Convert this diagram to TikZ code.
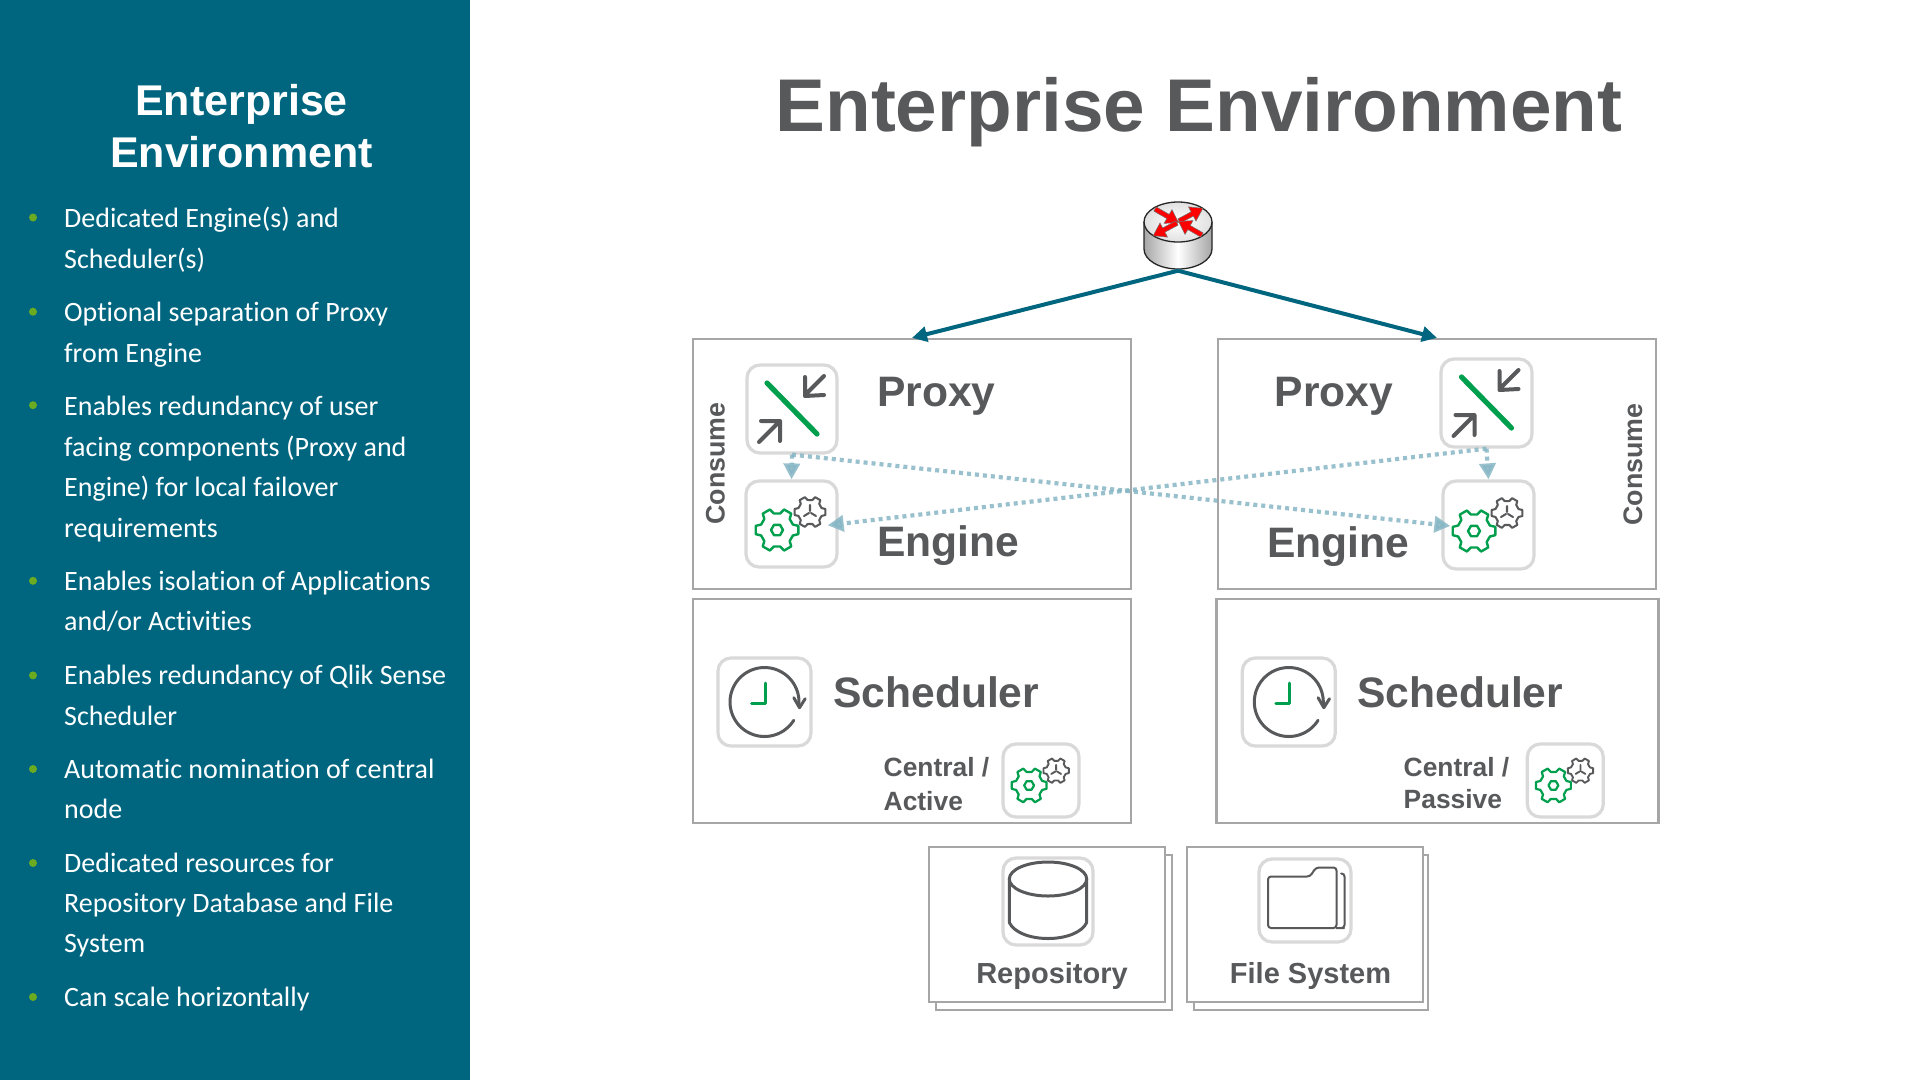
\documentclass[tikz,border=0pt]{standalone}
\usepackage{fontspec}
\setmainfont{Liberation Sans}
\newfontfamily\bodyfont[Ligatures=NoCommon]{Carlito}
\usetikzlibrary{arrows.meta,calc}
\definecolor{panelteal}{HTML}{00667F}
\definecolor{inkgray}{HTML}{58595B}
\definecolor{boxgray}{HTML}{A6A6A6}
\definecolor{iconedge}{HTML}{D9D9D9}
\definecolor{qgreen}{HTML}{009F4D}
\definecolor{dotblue}{HTML}{86B6C5}
\definecolor{bulletgreen}{HTML}{6AAB22}
\newcommand{\fsz}[1]{\fontsize{#1pt}{#1pt}\selectfont}
\tikzset{
  x=1pt,y=-1pt,
  framebox/.style={draw=boxgray,line width=2.2,fill=white,rectangle,inner sep=0,minimum width=#1},
  iconbox/.style={draw=iconedge,line width=3.2,rounded corners=13,fill=white,rectangle,inner sep=0},
  biglabel/.style={font=\bfseries\fsz{42.6},text=inkgray,anchor=base west,inner sep=0},
  smalllabel/.style={font=\bfseries\fsz{29},text=inkgray,inner sep=0},
  tinylabel/.style={font=\bfseries\fsz{26.4},text=inkgray,inner sep=0,anchor=base west},
  consumelabel/.style={font=\bfseries\fsz{26.8},text=inkgray,inner sep=0,rotate=90,anchor=base},
  bodyline/.style={font=\bodyfont\fsz{28},text=white,anchor=base west,inner sep=0},
  bulletdot/.style={fill=bulletgreen,circle,inner sep=0,minimum size=8},
  feed/.style={draw=panelteal,line width=4,-{Triangle[length=15,width=15]}},
  dotlink/.style={draw=dotblue,line width=4.2,opacity=.85,dash pattern=on 4 off 4,-{Triangle[length=16,width=16]}},
  inkline/.style={draw=inkgray,line cap=round,line join=round},
  greenline/.style={draw=qgreen,line cap=round,line join=round},
  enginegears/.pic={
    \begin{scope}[shift={(-14.5,6)}]
      \draw[greenline,line width=#1] ({-19}:16.8) \foreach \a in {0,60,...,300} { -- ({\a-19}:16.8) -- ({\a-11}:21.7) -- ({\a+11}:21.7) -- ({\a+19}:16.8) } -- cycle;
      \draw[greenline,line width=#1] (0:6) -- (60:6) -- (120:6) -- (180:6) -- (240:6) -- (300:6) -- cycle;
    \end{scope}
    \begin{scope}[shift={(18.5,-12)}]
      \draw[inkline,line width=#1*.85] ({-19}:12.2) \foreach \a in {0,60,...,300} { -- ({\a-19}:12.2) -- ({\a-11}:15.7) -- ({\a+11}:15.7) -- ({\a+19}:12.2) } -- cycle;
      \draw[inkline,line width=#1*.85] (0,-1) -- (0,-7) (1,1) -- (6,4) (-1,1) -- (-6,4);
    \end{scope}
  },
  proxyglyph/.pic={
    \draw[greenline,line width=5.2] (-25,-26) -- (25,25);
    \draw[inkline,line width=4] (32,-33) -- (13,-14) (13,-32) -- (13,-13) -- (32,-14);
    \draw[inkline,line width=4] (-33,33) -- (-12,12) (-31,12) -- (-12,12) -- (-12,32);
  },
  clockglyph/.pic={
    \draw[inkline,line width=3] plot[domain=32:366,samples=70,smooth] ({34.5*cos(\x)},{34.5*sin(\x)});
    \draw[inkline,line width=3] (29.3,-4.3) -- (35,5.7) -- (40.7,-3.3);
    \draw[greenline,line width=3] (0.7,-19) -- (0.7,1) -- (-13,1);
  },
  redpointer/.pic={
    \draw[fill=red,draw=black!55,line width=.5,line join=miter] (0,-2.4) -- (15,-2.4) -- (15,-8) -- (27,0) -- (15,8) -- (15,2.4) -- (0,2.4) -- cycle;
  }
}
\begin{document}
\begin{tikzpicture}
\useasboundingbox (0,0) rectangle (1920,1080);
\fill[white] (0,0) rectangle (1920,1080);
\fill[panelteal] (0,0) rectangle (470,1080);

% side panel
\node[font=\bfseries\fsz{43},text=white,anchor=base,inner sep=0] (ptitleA) at (241.5,115) {Enterprise};
\node[font=\bfseries\fsz{43},text=white,anchor=base,inner sep=0] (ptitleB) at (241.5,167) {Environment};
\node[bodyline] (l1) at (64,227.7) {Dedicated Engine(s) and};
\node[bodyline] (l2) at (64,268.2) {Scheduler(s)};
\node[bodyline] (l3) at (64,321.2) {Optional separation of Proxy};
\node[bodyline] (l4) at (64,362.8) {from Engine};
\node[bodyline] (l5) at (64,415) {Enables redundancy of user};
\node[bodyline] (l6) at (64,456.4) {facing components (Proxy and};
\node[bodyline] (l7) at (64,496.9) {Engine) for local failover};
\node[bodyline] (l8) at (64,537) {requirements};
\node[bodyline] (l9) at (64,590.3) {Enables isolation of Applications};
\node[bodyline] (l10) at (64,630.8) {and/or Activities};
\node[bodyline] (l11) at (64,684.9) {Enables redundancy of Qlik Sense};
\node[bodyline] (l12) at (64,725) {Scheduler};
\node[bodyline] (l13) at (64,778.4) {Automatic nomination of central};
\node[bodyline] (l14) at (64,818.5) {node};
\node[bodyline] (l15) at (64,872) {Dedicated resources for};
\node[bodyline] (l16) at (64,912.6) {Repository Database and File};
\node[bodyline] (l17) at (64,952.5) {System};
\node[bodyline] (l18) at (64,1006) {Can scale horizontally};
\foreach \i/\yy in {1/217.5,2/311.7,3/405.2,4/580.8,5/675.4,6/769,7/863,8/997}
  \node[bulletdot] (bullet\i) at (33,\yy) {};

% main title
\node[font=\bfseries\fsz{74.7},text=inkgray,anchor=base,inner sep=0] (maintitle) at (1199,131) {Enterprise Environment};

% frames
\node[framebox=438,minimum height=250] (consumeA) at (912,464) {};
\node[framebox=438,minimum height=250] (consumeB) at (1437,464) {};
\node[framebox=438,minimum height=224] (schedA) at (912,711) {};
\node[framebox=442,minimum height=224] (schedB) at (1437.5,711) {};
\node[framebox=236,minimum height=155] (repoback) at (1054,932.5) {};
\node[framebox=236,minimum height=155] (repofront) at (1047,924.5) {};
\node[framebox=234,minimum height=155] (fsback) at (1311,932.5) {};
\node[framebox=236,minimum height=155] (fsfront) at (1305,924.5) {};

% icon boxes
\node[iconbox,minimum width=90,minimum height=88] (proxyA) at (792,409) {};
\node[iconbox,minimum width=91,minimum height=86] (engineA) at (791.5,524) {};
\node[iconbox,minimum width=91,minimum height=88] (proxyB) at (1486.5,403) {};
\node[iconbox,minimum width=91,minimum height=88] (engineB) at (1488.5,525) {};
\node[iconbox,minimum width=93,minimum height=88] (clockA) at (764.5,702) {};
\node[iconbox,minimum width=93,minimum height=88] (clockB) at (1288.8,702) {};
\node[iconbox,minimum width=76,minimum height=73] (miniA) at (1041,780.5) {};
\node[iconbox,minimum width=76,minimum height=73] (miniB) at (1565.3,780.5) {};
\node[iconbox,minimum width=90,minimum height=87] (repoicon) at (1048,901.5) {};
\node[iconbox,minimum width=92,minimum height=83] (fsicon) at (1305,900.5) {};

% glyphs
\pic at (proxyA.center) {proxyglyph};
\pic at (proxyB.center) {proxyglyph};
\pic at (engineA.center) {enginegears=2.4};
\pic at (engineB.center) {enginegears=2.4};
\pic at (clockA.center) {clockglyph};
\pic at (clockB.center) {clockglyph};
\pic[scale=.82] at (miniA.center) {enginegears=2.2};
\pic[scale=.82] at (miniB.center) {enginegears=2.2};

% repository glyph
\begin{scope}[shift={(repoicon.center)}]
  \draw[inkline,line width=3] (0,-22.5) circle[x radius=38.7pt,y radius=17pt];
  \draw[inkline,line width=3] (-38.7,-22.5) -- (-38.7,21) .. controls (-34,31) and (-18,37) .. (0,37) .. controls (18,37) and (34,31) .. (38.7,21) -- (38.7,-22.5);
\end{scope}
% folder glyph
\begin{scope}[shift={(fsicon.center)}]
  \draw[inkline,line width=2,rounded corners=3] (-37,-24) -- (5,-24) -- (11,-33) -- (31.5,-33) -- (31.5,27.5) -- (-37,27.5) -- cycle;
  \draw[inkline,line width=2,rounded corners=3] (36,-27) -- (39.5,-27) -- (39.5,27.5) -- (36,27.5) -- (31.5,27.5);
\end{scope}

% router
\node[inner sep=0,minimum width=68,minimum height=64] (router) at (1178,238.5) {};
\begin{scope}[shift={(1178,222)}]
  \shade[left color=black!35,right color=black!35,middle color=white] (-34,0) -- (-34,27) arc[start angle=180,end angle=360,x radius=34pt,y radius=20pt] -- (34,0) -- cycle;
  \draw[black!85,line width=1.3] (-34,0) -- (-34,27) arc[start angle=180,end angle=360,x radius=34pt,y radius=20pt] -- (34,0);
  \shade[inner color=white,outer color=black!12] (0,0) circle[x radius=34pt,y radius=20pt];
  \draw[black!85,line width=1.3] (0,0) circle[x radius=34pt,y radius=20pt];
  \pic[rotate=-30] at (-23,-13) {redpointer};
  \pic[rotate=28] at (1,-1) {redpointer};
  \pic[rotate=208] at (-1,1) {redpointer};
  \pic[rotate=150] at (24,13) {redpointer};
\end{scope}

% labels
\node[biglabel] (pxA) at (877,406.7) {Proxy};
\node[biglabel] (enA) at (877,556.7) {Engine};
\node[biglabel] (pxB) at (1274.5,406.7) {Proxy};
\node[biglabel] (enB) at (1267,557.7) {Engine};
\node[biglabel] (scA) at (833,707.7) {Scheduler};
\node[biglabel] (scB) at (1357,707.7) {Scheduler};
\node[tinylabel] (cenA) at (883.5,776.5) {Central /};
\node[tinylabel] (actA) at (883.5,810) {Active};
\node[tinylabel] (cenB) at (1403.5,776) {Central /};
\node[tinylabel] (pasB) at (1403.5,808) {Passive};
\node[smalllabel,anchor=base] (repolabel) at (1052,983.5) {Repository};
\node[smalllabel,anchor=base] (fslabel) at (1310.5,983.5) {File System};
\node[consumelabel] (conA) at (724.5,463.5) {Consume};
\node[consumelabel] (conB) at (1642,464.5) {Consume};

% connectors
\draw[feed] (router.south) -- (consumeA.north);
\draw[feed] (router.south) -- (consumeB.north);
\draw[dotlink] (proxyA.south) -- (engineA.north);
\draw[dotlink] (proxyB.south) -- (engineB.north);
\draw[dotlink,shorten >=-9] (proxyA.south) -- (engineB.west);
\draw[dotlink,shorten >=-11] (proxyB.south) -- (engineA.east);
\end{tikzpicture}
\end{document}
